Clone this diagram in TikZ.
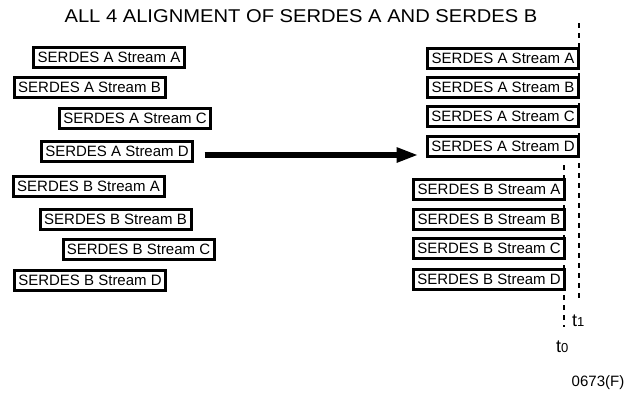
\documentclass[tikz,border=0pt]{standalone}
\usepackage{fontspec}
\setmainfont{Liberation Sans}
\usetikzlibrary{arrows.meta}
\begin{document}
\begin{tikzpicture}[x=1pt,y=-1pt,
  sbox/.style={draw,line width=3pt,fill=white,minimum width=151pt,minimum height=20pt,inner sep=0pt,font=\fontsize{15}{18}\selectfont},
  tline/.style={line width=2pt,dash pattern=on 5pt off 5pt},
  lbl/.style={font=\fontsize{15}{18}\selectfont,inner sep=0pt},
  tlbl/.style={font=\fontsize{18}{20}\selectfont,inner sep=0pt},
  bigarrow/.style={line width=6pt,-{Triangle[length=22pt,width=14pt]}}]
\useasboundingbox (0,0) rectangle (639,394);
\fill[white] (0,0) rectangle (639,394);
\node[font=\fontsize{18.5}{22}\selectfont,inner sep=0pt] (title) at (301,16.5) {\scalebox{1.09}[1]{ALL 4 ALIGNMENT OF SERDES A AND SERDES B}};
\coordinate (t1top) at (579,23);
\coordinate (t1bot) at (579,302);
\coordinate (t0top) at (564,165);
\coordinate (t0bot) at (564,327);
\draw[tline] (t1top) -- (t1bot);
\draw[tline] (t0top) -- (t0bot);
% left column
\node[sbox] (lAA) at (109,57.5) {SERDES A Stream A};
\node[sbox] (lAB) at (89.5,87.5) {SERDES A Stream B};
\node[sbox] (lAC) at (135,118) {SERDES A Stream C};
\node[sbox] (lAD) at (117,151) {SERDES A Stream D};
\node[sbox] (lBA) at (88.5,186.5) {SERDES B Stream A};
\node[sbox] (lBB) at (115.5,219.5) {SERDES B Stream B};
\node[sbox] (lBC) at (138.5,249) {SERDES B Stream C};
\node[sbox] (lBD) at (90,280) {SERDES B Stream D};
% right column
\node[sbox] (rAA) at (503,58) {SERDES A Stream A};
\node[sbox] (rAB) at (503,87) {SERDES A Stream B};
\node[sbox] (rAC) at (503,116) {SERDES A Stream C};
\node[sbox] (rAD) at (503,146) {SERDES A Stream D};
\node[sbox] (rBA) at (489,189) {SERDES B Stream A};
\node[sbox] (rBB) at (489,219) {SERDES B Stream B};
\node[sbox] (rBC) at (489,248.5) {SERDES B Stream C};
\node[sbox] (rBD) at (489,279.5) {SERDES B Stream D};
\draw[bigarrow] ([xshift=10.5pt,yshift=-4pt]lAD.east) -- ([xshift=-7.5pt,yshift=-9pt]rAD.west);
\node[tlbl,anchor=base west] (t1) at (572,326) {t{\fontsize{13}{14}\selectfont 1}};
\node[tlbl,anchor=base west] (t0) at (556,352) {t{\fontsize{13}{14}\selectfont 0}};
\node[lbl] (fig) at (598,382.5) {0673(F)};
\end{tikzpicture}
\end{document}
